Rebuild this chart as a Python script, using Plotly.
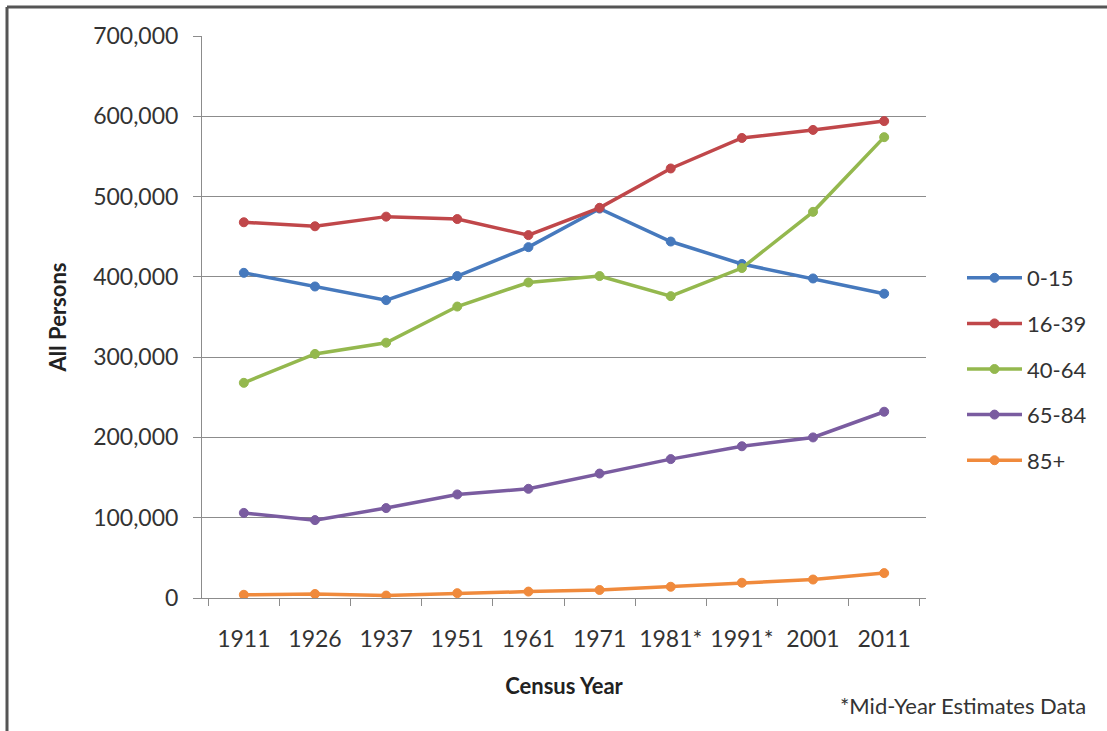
import plotly.graph_objects as go

years = ["1911", "1926", "1937", "1951", "1961", "1971", "1981*", "1991*", "2001", "2011"]
age_0_15 = [405000, 388000, 371000, 401000, 437000, 485000, 444000, 416000, 398000, 379000]
age_16_39 = [468000, 463000, 475000, 472000, 452000, 486000, 535000, 573000, 583000, 594000]
age_40_64 = [268000, 304000, 318000, 363000, 393000, 401000, 376000, 411000, 481000, 574000]
age_65_84 = [106000, 97000, 112000, 129000, 136000, 155000, 173000, 189000, 200000, 232000]
age_85p = [4000, 5000, 3000, 6000, 8000, 10000, 14000, 19000, 23000, 31000]

series = [
    ("0-15", age_0_15, "#4679BD"),
    ("16-39", age_16_39, "#C0474A"),
    ("40-64", age_40_64, "#94B84E"),
    ("65-84", age_65_84, "#7A5CA0"),
    ("85+", age_85p, "#F08A3C"),
]

FONT = "Lato, 'Open Sans', sans-serif"
FS = 23

fig = go.Figure()
for name, vals, col in series:
    fig.add_trace(go.Scatter(
        x=years, y=vals, name=name, mode="lines+markers",
        line=dict(color=col, width=3.5),
        marker=dict(symbol="circle", size=9, color=col,
                    line=dict(color=col, width=1)),
        legendgroup=name,
    ))

# plot area in pixels
L, R, T, B = 202, 926, 36, 598
W, H = 1107, 731
def px(x):
    return (x - L) / (R - L)
def py(y):
    return (B - y) / (B - T)

fig.update_layout(
    width=W, height=H, autosize=False,
    margin=dict(l=L, r=W - R, t=T, b=H - B),
    paper_bgcolor="white", plot_bgcolor="white",
    font=dict(family=FONT, size=FS, color="#333333"),
    showlegend=True,
    legend=dict(
        x=px(962), y=py(257), xanchor="left", yanchor="top",
        font=dict(family=FONT, size=FS - 1, color="#333333"),
        traceorder="grouped", tracegroupgap=14, itemwidth=55,
        bgcolor="rgba(0,0,0,0)",
    ),
    xaxis=dict(
        type="category", showgrid=False, automargin=False,
        showline=True, linecolor="#8c8c8c", linewidth=1,
        ticks="outside", ticklen=7, tickcolor="#8c8c8c",
        tickson="boundaries", tickangle=0,
        ticklabelstandoff=20,
        tickfont=dict(family=FONT, size=FS, color="#333333"),
        title=dict(text="<b>Census Year</b>", font=dict(family=FONT, size=FS - 1, color="#222222"), standoff=28),
        zeroline=False,
    ),
    yaxis=dict(
        range=[0, 700000], dtick=100000, tickformat=",", automargin=False,
        showgrid=True, gridcolor="#8c8c8c", gridwidth=1,
        showline=True, linecolor="#8c8c8c", linewidth=1,
        ticks="outside", ticklen=8, tickcolor="#8c8c8c",
        ticklabelstandoff=10,
        tickfont=dict(family=FONT, size=FS, color="#333333"),
        title=dict(text="<b>All Persons</b>", font=dict(family=FONT, size=FS - 1, color="#222222"), standoff=20),
        zeroline=False,
    ),
)

fig.add_annotation(
    text="*Mid-Year Estimates Data", xref="paper", yref="paper",
    x=px(1088), y=py(705), xanchor="right", yanchor="middle",
    showarrow=False, font=dict(family=FONT, size=FS - 1, color="#333333"),
)

# outer frame (top and left edges)
fig.add_shape(type="line", xref="paper", yref="paper",
              x0=px(7), x1=px(1107), y0=py(7), y1=py(7),
              line=dict(color="#555555", width=3))
fig.add_shape(type="line", xref="paper", yref="paper",
              x0=px(7), x1=px(7), y0=py(7), y1=py(731),
              line=dict(color="#555555", width=3))

fig.write_html("out.html")
